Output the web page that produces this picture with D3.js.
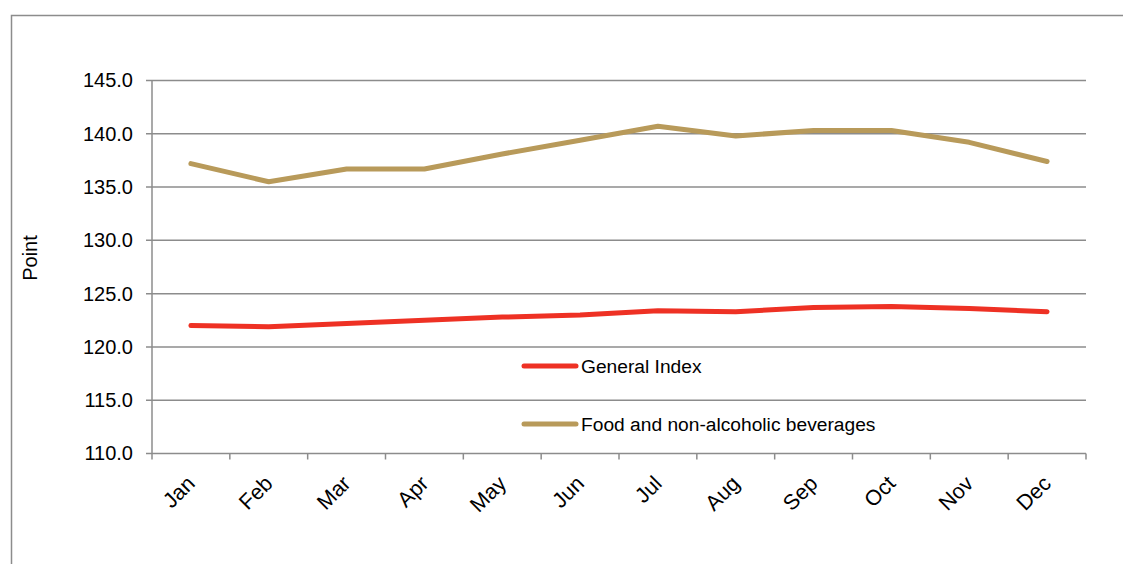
<!DOCTYPE html>
<html>
<head>
<meta charset="utf-8">
<script src="https://cdn.jsdelivr.net/npm/d3@7"></script>
<style>
  body { margin: 0; background: #fff; }
  svg { display: block; font-family: "Liberation Sans", Arial, sans-serif; }
</style>
</head>
<body>
<div class="chart"></div>
<script>
var months = ["Jan", "Feb", "Mar", "Apr", "May", "Jun", "Jul", "Aug", "Sep", "Oct", "Nov", "Dec"];
var generalIndex = [122.0, 121.9, 122.2, 122.5, 122.8, 123.0, 123.4, 123.3, 123.7, 123.8, 123.6, 123.3];
var foodBev = [137.2, 135.5, 136.7, 136.7, 138.1, 139.4, 140.7, 139.8, 140.3, 140.3, 139.2, 137.4];
var yTicks = [110, 115, 120, 125, 130, 135, 140, 145];
var seriesNames = ["General Index", "Food and non-alcoholic beverages"];
var seriesColors = ["#ee3124", "#b89a5a"];

var svgWidth = 1123;
var svgHeight = 564;
var margin = { top: 80.5, right: 37, bottom: 110.5, left: 152 };
var width = svgWidth - margin.left - margin.right;
var height = svgHeight - margin.top - margin.bottom;
var fontSize = 20;

var svg = d3.select(".chart")
    .append("svg")
    .attr("width", svgWidth)
    .attr("height", svgHeight);

// outer frame
svg.append("rect")
    .attr("x", 11.5)
    .attr("y", 15.5)
    .attr("width", 1130)
    .attr("height", 600)
    .attr("fill", "none")
    .attr("stroke", "#8c8c8c")
    .attr("stroke-width", 1.5);

var chart = svg.append("g")
    .attr("transform", "translate(" + margin.left + "," + margin.top + ")");

var xBand = d3.scaleBand().domain(months).range([0, width]);
var yLinearScale = d3.scaleLinear().domain([110, 145]).range([height, 0]);

// gridlines
chart.append("g")
    .selectAll("line")
    .data(yTicks)
    .enter()
    .append("line")
    .attr("x1", -6)
    .attr("x2", width)
    .attr("y1", function(d) { return yLinearScale(d); })
    .attr("y2", function(d) { return yLinearScale(d); })
    .attr("stroke", "#8c8c8c")
    .attr("stroke-width", 1.5);

// y axis
var leftAxis = d3.axisLeft(yLinearScale)
    .tickValues(yTicks)
    .tickSize(0)
    .tickPadding(19)
    .tickFormat(d3.format(".1f"));

var yAxis = chart.append("g").call(leftAxis);
yAxis.select(".domain").remove();
yAxis.selectAll("text")
    .attr("font-size", fontSize)
    .attr("fill", "#000")
    .style("font-family", "Liberation Sans, Arial, sans-serif");

chart.append("line")
    .attr("x1", 0).attr("x2", 0)
    .attr("y1", 0).attr("y2", height)
    .attr("stroke", "#8c8c8c")
    .attr("stroke-width", 1.5);

// x axis ticks at band edges
var edges = months.map(function(m) { return xBand(m); }).concat([width]);
chart.append("g")
    .selectAll("line")
    .data(edges)
    .enter()
    .append("line")
    .attr("x1", function(d) { return d; })
    .attr("x2", function(d) { return d; })
    .attr("y1", height)
    .attr("y2", height + 6)
    .attr("stroke", "#8c8c8c")
    .attr("stroke-width", 1.5);

chart.append("g")
    .selectAll("text")
    .data(months)
    .enter()
    .append("text")
    .attr("transform", function(d) {
        var cx = xBand(d) + xBand.bandwidth() / 2;
        return "translate(" + (cx) + "," + (height + 26) + ") rotate(-45)";
    })
    .attr("text-anchor", "end")
    .attr("dy", "0.35em")
    .attr("font-size", 21.5)
    .attr("fill", "#000")
    .text(function(d) { return d; });

// y axis title
chart.append("text")
    .attr("transform", "translate(" + (37 - margin.left) + "," + (258 - margin.top) + ") rotate(-90)")
    .attr("text-anchor", "middle")
    .attr("font-size", fontSize)
    .attr("fill", "#000")
    .text("Point");

// lines
var line = d3.line()
    .x(function(d, i) { return xBand(months[i]) + xBand.bandwidth() / 2; })
    .y(function(d) { return yLinearScale(d); });

[generalIndex, foodBev].forEach(function(series, i) {
    chart.append("path")
        .datum(series)
        .attr("d", line)
        .attr("fill", "none")
        .attr("stroke", seriesColors[i])
        .attr("stroke-width", 5)
        .attr("stroke-linecap", "round")
        .attr("stroke-linejoin", "round");
});

// legend
var legend = svg.append("g")
    .selectAll("g")
    .data(seriesNames)
    .enter()
    .append("g")
    .attr("transform", function(d, i) { return "translate(524," + (366 + i * 58) + ")"; });

legend.append("line")
    .attr("x1", 0).attr("x2", 52)
    .attr("stroke", function(d, i) { return seriesColors[i]; })
    .attr("stroke-width", 5)
    .attr("stroke-linecap", "round");

legend.append("text")
    .attr("x", 57)
    .attr("dy", "0.35em")
    .attr("font-size", 19.2)
    .attr("fill", "#000")
    .text(function(d) { return d; });
</script>
</body>
</html>
